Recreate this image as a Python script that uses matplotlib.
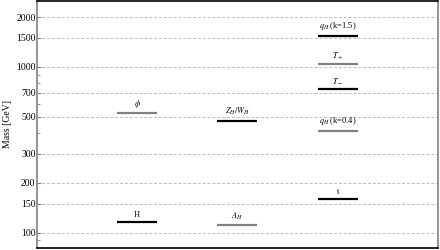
import matplotlib.pyplot as plt
import matplotlib.ticker as mticker
import numpy as np

plt.rcParams['font.family'] = 'Liberation Serif'
plt.rcParams['mathtext.fontset'] = 'stix'

# columna, masa, etiqueta, color
columnas = [1, 1, 2, 2, 3, 3, 3, 3, 3]
masas = [528, 116, 475, 111, 1542, 1042, 737, 413, 160]
etiquetas = [r'$\phi$', 'H', r'$Z_H/W_H$', r'$A_H$', r'$q_H$ (k=1.5)',
             r'$T_+$', r'$T_-$', r'$q_H$ (k=0.4)', 't']
colores = ['#808080', 'black', 'black', '#808080', 'black',
           '#808080', 'black', '#808080', 'black']

ticks_y = [100, 150, 200, 300, 500, 700, 1000, 1500, 2000]

fig = plt.figure(figsize=(4.4, 2.5), dpi=100)
ax = fig.add_axes([0.084, 0.008, 0.911, 0.988])

ancho = 0.4
for x, m, lab, c in zip(columnas, masas, etiquetas, colores):
    ax.hlines(m, x - ancho / 2, x + ancho / 2, color=c, lw=1.6)
    ax.annotate(lab, (x, m), xytext=(0, 2.5), textcoords='offset points',
                ha='center', va='bottom', fontsize=6)

ax.set_yscale('log')
ax.set_ylim(81, 2500)
ax.set_xlim(0, 4)
ax.set_yticks(ticks_y)
ax.yaxis.set_major_formatter(mticker.FixedFormatter([str(t) for t in ticks_y]))
ax.yaxis.set_minor_formatter(mticker.NullFormatter())
ax.set_xticks([])
for t in ticks_y:
    ax.axhline(t, color='#bbbbbb', lw=0.7, ls=(0, (3, 2)), zorder=0)

ax.tick_params(axis='y', which='major', direction='in', length=3, labelsize=7,
               color='#808080', pad=1)
ax.tick_params(axis='y', which='minor', direction='in', length=1.8, color='#808080')
ax.set_ylabel('Mass [GeV]', fontsize=7, labelpad=3)

ax.spines['left'].set_color('#808080')
ax.spines['right'].set_color('#808080')
ax.spines['top'].set_color('black')
ax.spines['bottom'].set_color('black')
for s in ax.spines.values():
    s.set_linewidth(1.2)

plt.savefig('out.png', dpi=100)
